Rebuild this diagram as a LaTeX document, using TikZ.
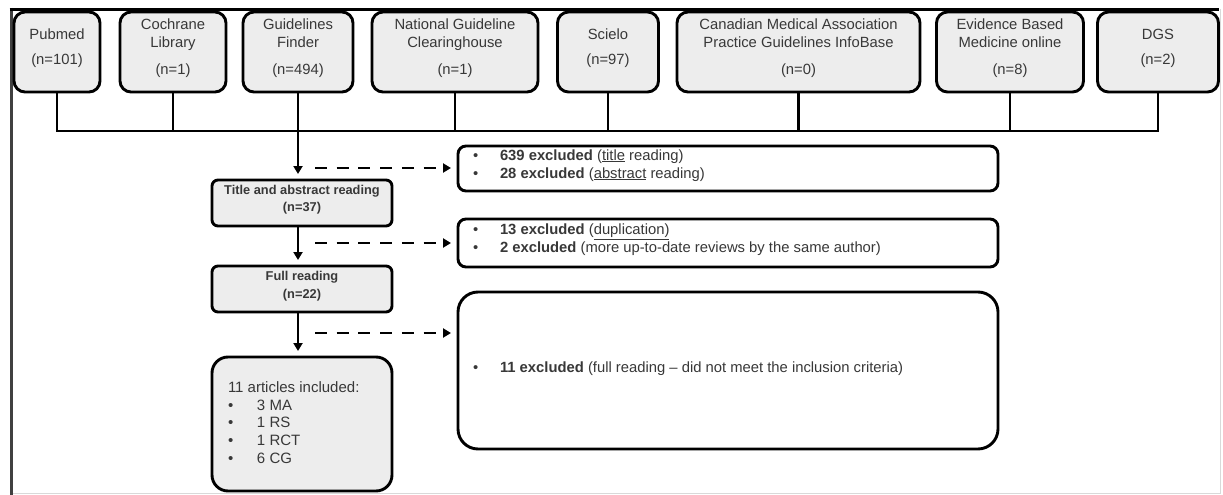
\documentclass[tikz,border=0pt]{standalone}
\usepackage{fontspec}
\setmainfont{Liberation Sans}
\usetikzlibrary{arrows.meta}
\definecolor{boxfill}{HTML}{EDEDED}
\definecolor{txtc}{HTML}{383838}
\begin{document}
\begin{tikzpicture}[x=1pt,y=-1pt,
  every node/.style={inner sep=0pt, outer sep=0pt},
  src/.style={draw=black, line width=2.9pt, fill=boxfill, rounded corners=11pt, minimum height=80pt},
  srctxt/.style={text=txtc, font=\fontsize{14.8}{18}\selectfont, align=center, yshift=3.4pt},
  flowbox/.style={draw=black, line width=2.9pt, fill=boxfill, rounded corners=6pt, minimum width=180pt, minimum height=46pt},
  flowtxt/.style={text=txtc, font=\bfseries\fontsize{12.8}{17}\selectfont, align=center, yshift=3pt},
  exbox/.style={draw=black, line width=2.9pt, fill=white, rounded corners=8pt, minimum width=540pt},
  extxt/.style={text=txtc, font=\fontsize{14.8}{18}\selectfont, align=left, anchor=west, xshift=15pt, yshift=3.2pt},
  conn/.style={draw=black, line width=2.9pt},
  arr/.style={conn, -{Triangle[length=8pt,width=9pt]}, shorten >=6pt},
  darr/.style={conn, dash pattern=on 12pt off 9.7pt, -{Triangle[length=8pt,width=9pt]}, shorten >=7pt},
]
\useasboundingbox (0,0) rectangle (1223,495);
\fill[white] (0,0) rectangle (1223,495);
% frame
\draw[line width=1.5pt, black!15] (1220.5,9) -- (1220.5,493.5) -- (11,493.5);
\draw[line width=3pt, black!75] (11,8) -- (11,495);
\draw[line width=3pt, black] (9.5,9.5) -- (1219,9.5);

% source boxes
\node[src, minimum width=86pt]  (pubmed)   at (57,52)    {};
\node[src, minimum width=106pt] (cochrane) at (173,52)   {};
\node[src, minimum width=110pt] (gfinder)  at (298,52)   {};
\node[src, minimum width=166pt] (ngc)      at (455,52)   {};
\node[src, minimum width=101pt] (scielo)   at (608,52)   {};
\node[src, minimum width=243pt] (cma)      at (798.5,52) {};
\node[src, minimum width=147pt] (ebm)      at (1010,52)  {};
\node[src, minimum width=121pt] (dgs)      at (1158,52)  {};

\node[srctxt] (pubmed-t)   at (pubmed)   {Pubmed\\[7pt](n=101)};
\node[srctxt] (cochrane-t) at (cochrane) {Cochrane\\Library\\[9pt](n=1)};
\node[srctxt] (gfinder-t)  at (gfinder)  {Guidelines\\Finder\\[9pt](n=494)};
\node[srctxt] (ngc-t)      at (ngc)      {National Guideline\\Clearinghouse\\[9pt](n=1)};
\node[srctxt] (scielo-t)   at (scielo)   {Scielo\\[7pt](n=97)};
\node[srctxt] (cma-t)      at (cma)      {Canadian Medical Association\\Practice Guidelines InfoBase\\[9pt](n=0)};
\node[srctxt] (ebm-t)      at (ebm)      {Evidence Based\\Medicine online\\[9pt](n=8)};
\node[srctxt] (dgs-t)      at (dgs)      {DGS\\[7pt](n=2)};

% collector line
\coordinate (hl) at (0,131);
\draw[conn] (pubmed.south) |- (dgs.south |- hl) -- (dgs.south);
\foreach \n in {cochrane,gfinder,ngc,scielo,cma,ebm}
  \draw[conn] (\n.south) -- (\n.south |- hl);

% flow boxes
\node[flowbox] (title) at (302,203) {};
\node[flowtxt] (title-t) at (title) {Title and abstract reading\\(n=37)};
\node[flowbox] (full) at (302,289) {};
\node[flowtxt] (full-t) at (full) {Full reading\\[1pt](n=22)};
\node[flowbox, rounded corners=16pt, minimum height=134pt] (incl) at (302,424) {};
\node[text=txtc, font=\fontsize{15}{17.7}\selectfont, align=left, anchor=west, xshift=16pt, yshift=1.5pt] (incl-t) at (incl.west)
  {11 articles included:\\
   \makebox[29pt][l]{•}3 MA\\
   \makebox[29pt][l]{•}1 RS\\
   \makebox[29pt][l]{•}1 RCT\\
   \makebox[29pt][l]{•}6 CG};

\draw[arr] (gfinder.south |- hl) -- (gfinder.south |- title.north);
\draw[arr] (title.south -| gfinder.south) -- (full.north -| gfinder.south);
\draw[arr] (full.south -| gfinder.south) -- (incl.north -| gfinder.south);

% exclusion boxes
\node[exbox, minimum height=45pt] (exA) at (728,168.5) {};
\node[extxt] (exA-t) at (exA.west)
  {\makebox[27pt][l]{•}\textbf{639 excluded} (\underline{title} reading)\\
   \makebox[27pt][l]{•}\textbf{28 excluded} (\underline{abstract} reading)};
\node[exbox, minimum height=48pt] (exB) at (728,243) {};
\node[extxt] (exB-t) at (exB.west)
  {\makebox[27pt][l]{•}\textbf{13 excluded} (\underline{duplication)}\\
   \makebox[27pt][l]{•}\textbf{2 excluded} (more up-to-date reviews by the same author)};
\node[exbox, rounded corners=20pt, minimum height=157pt] (exC) at (728,370.5) {};
\node[extxt, yshift=-1pt] (exC-t) at (exC.west)
  {\makebox[27pt][l]{•}\textbf{11 excluded} (full reading – did not meet the inclusion criteria)};

% dashed arrows
\coordinate (d1) at (315,168);
\coordinate (d2) at (315,243);
\coordinate (d3) at (315,333);
\draw[darr] (d1) -- (d1 -| exA.west);
\draw[darr] (d2) -- (d2 -| exB.west);
\draw[darr] (d3) -- (d3 -| exC.west);
\end{tikzpicture}
\end{document}
